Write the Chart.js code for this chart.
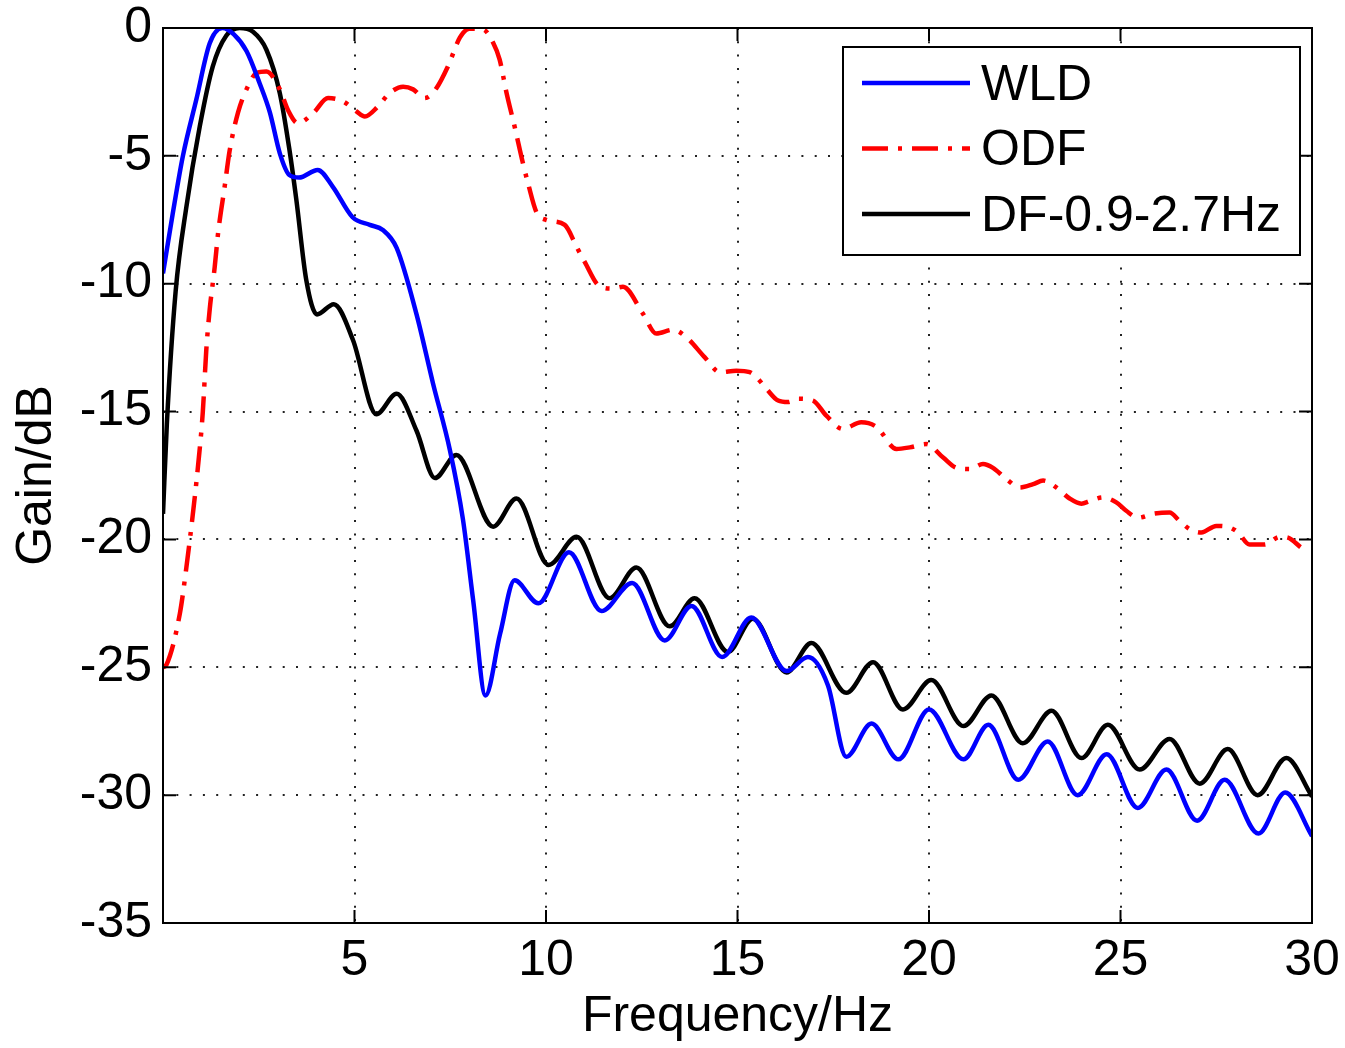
<!DOCTYPE html>
<html>
<head>
<meta charset="utf-8">
<title>Gain / Frequency</title>
<script src="https://cdn.jsdelivr.net/npm/chart.js@4.4.0/dist/chart.umd.min.js"></script>
<style>
  html, body { margin: 0; padding: 0; background: #fff; }
  #wrap { width: 1345px; height: 1048px; }
</style>
</head>
<body>
<div id="wrap"><canvas id="gainChart" width="1345" height="1048"></canvas></div>
<script>
// Values: frequency in Hz, gain in dB
const wldFreq = [0, 0.25, 0.52, 0.87, 1.22, 1.55, 1.85, 2.18, 2.52, 2.79, 3.05, 3.3, 3.55, 4.04, 4.43, 4.95, 5.4, 5.74,
  6.1, 6.62, 7.05, 7.49, 7.83, 8.1, 8.42, 8.8, 9.18, 9.8, 10.6, 11.45, 12.25, 13.1, 13.8, 14.6, 15.36, 16.28, 16.84,
  17.36, 17.84, 18.5, 19.2, 20.0, 20.9, 21.55, 22.33, 23.1, 23.88, 24.64, 25.45, 26.2, 27.0, 27.72, 28.6, 29.3, 30];
const wldGain = [-9.6, -7.3, -5.0, -2.8, -0.6, 0.0, -0.25, -0.9, -2.15, -3.3, -4.9, -5.75, -5.85, -5.55, -6.2, -7.4, -7.7, -7.9,
  -8.6, -11.2, -13.9, -16.5, -19.2, -22.4, -26.1, -23.7, -21.6, -22.5, -20.5, -22.8, -21.7, -23.95, -22.6, -24.6, -23.05, -25.15, -24.6,
  -25.7, -28.5, -27.2, -28.6, -26.65, -28.6, -27.25, -29.4, -27.9, -30.0, -28.4, -30.5, -29.0, -31.0, -29.4, -31.5, -29.9, -31.6];

const odfFreq = [0, 0.09, 0.44, 0.61, 0.78, 0.91, 1.04, 1.13, 1.22, 1.35, 1.44, 1.61, 1.74, 1.96, 2.18, 2.44, 2.7, 3.05,
  3.26, 3.52, 3.92, 4.31, 4.7, 5.05, 5.27, 5.61, 5.92, 6.27, 6.53, 6.83, 7.14, 7.44, 7.75, 8.0, 8.36, 8.62, 8.79, 8.97,
  9.18, 9.4, 9.53, 9.75, 10.0, 10.49, 10.8, 11.01, 11.4, 11.75, 12.01, 12.53, 12.88, 13.32, 13.67, 14.14, 14.54, 14.97,
  15.32, 15.49, 15.75, 16.06, 16.32, 16.58, 16.97, 17.32, 17.75, 18.23, 18.63, 19.15, 19.5, 19.93, 20.37, 20.72, 21.06,
  21.41, 21.67, 22.02, 22.37, 22.72, 22.98, 23.33, 23.67, 23.98, 24.2, 24.54, 24.89, 25.15, 25.46, 25.85, 26.28, 26.54,
  26.81, 27.11, 27.5, 27.85, 28.07, 28.37, 28.76, 29.16, 29.37, 29.7];
const odfGain = [-25.0, -24.9, -22.9, -21.1, -19.0, -17.2, -15.0, -12.6, -11.0, -9.35, -8.0, -6.2, -4.8, -3.3, -2.4, -1.76, -1.7, -2.4,
  -3.2, -3.72, -3.33, -2.74, -2.87, -3.26, -3.46, -3.07, -2.54, -2.3, -2.4, -2.74, -2.35, -1.5, -0.38, -0.03, -0.06, -0.58, -1.24, -2.54,
  -3.85, -5.3, -6.07, -7.2, -7.5, -7.7, -8.56, -9.15, -10.1, -10.19, -10.12, -11.17, -11.95, -11.8, -12.1, -12.87, -13.46, -13.4,
  -13.46, -13.65, -14.1, -14.57, -14.63, -14.5, -14.57, -15.16, -15.68, -15.42, -15.6, -16.46, -16.4, -16.27, -16.8, -17.2, -17.25,
  -17.05, -17.2, -17.64, -17.97, -17.84, -17.7, -17.97, -18.4, -18.6, -18.5, -18.36, -18.55, -18.88, -19.15, -19.0, -18.95, -19.27,
  -19.6, -19.73, -19.47, -19.53, -19.73, -20.2, -20.2, -19.9, -19.93, -20.3];

const dfFreq = [0, 0.1, 0.33, 0.61, 0.96, 1.3, 1.65, 2.0, 2.35, 2.7, 3.05, 3.3, 3.48, 3.74, 4.02, 4.46, 4.96, 5.57, 6.1,
  6.62, 7.1, 7.66, 8.62, 9.23, 10.07, 10.8, 11.66, 12.36, 13.23, 13.88, 14.75, 15.4, 16.28, 16.93, 17.84, 18.54, 19.32,
  20.06, 20.9, 21.63, 22.45, 23.2, 23.98, 24.67, 25.5, 26.28, 27.07, 27.8, 28.58, 29.33, 30];
const dfGain = [-19.0, -15.5, -10.3, -7.0, -3.85, -1.5, -0.3, 0.0, -0.15, -0.85, -2.55, -4.75, -6.7, -9.85, -11.2, -10.8, -12.2, -15.1, -14.3,
  -15.75, -17.6, -16.7, -19.5, -18.4, -21.0, -19.9, -22.3, -21.1, -23.4, -22.3, -24.4, -23.1, -25.2, -24.05, -26.0, -24.8, -26.65,
  -25.5, -27.3, -26.1, -27.97, -26.7, -28.55, -27.25, -29.0, -27.8, -29.55, -28.2, -30.0, -28.55, -30.05];

const seriesNames = ['WLD', 'ODF', 'DF-0.9-2.7Hz'];
const xTickValues = [0, 5, 10, 15, 20, 25, 30];
const xTickLabels = ['', '5', '10', '15', '20', '25', '30'];
const yTickValues = [-35, -30, -25, -20, -15, -10, -5, 0];
const yTickLabels = ['-35', '-30', '-25', '-20', '-15', '-10', '-5', '0'];

const FONT = "'Liberation Sans', Arial, Helvetica, sans-serif";

function toPoints(xs, ys) {
  return xs.map((x, i) => ({ x: x, y: ys[i] }));
}

// axes box with inward tick marks, like the original figure
const framePlugin = {
  id: 'frame',
  afterDatasetsDraw(chart) {
    const { ctx, chartArea: a, scales } = chart;
    const tl = 13;
    ctx.save();
    ctx.strokeStyle = '#000';
    ctx.lineWidth = 2;
    ctx.beginPath();
    xTickValues.forEach(v => {
      const px = scales.x.getPixelForValue(v);
      ctx.moveTo(px, a.bottom); ctx.lineTo(px, a.bottom - tl);
      ctx.moveTo(px, a.top); ctx.lineTo(px, a.top + tl);
    });
    yTickValues.forEach(v => {
      const py = scales.y.getPixelForValue(v);
      ctx.moveTo(a.left, py); ctx.lineTo(a.left + tl, py);
      ctx.moveTo(a.right, py); ctx.lineTo(a.right - tl, py);
    });
    ctx.stroke();
    ctx.strokeRect(a.left, a.top, a.right - a.left, a.bottom - a.top);
    ctx.restore();
  }
};

// legend box drawn inside the plot, top right
const boxLegend = {
  id: 'boxLegend',
  afterDraw(chart) {
    const { ctx, chartArea: a } = chart;
    const w = 457, h = 208;
    const left = a.right - 12 - w;
    const top = a.top + 19;
    ctx.save();
    ctx.fillStyle = '#fff';
    ctx.fillRect(left, top, w, h);
    ctx.strokeStyle = '#000';
    ctx.lineWidth = 2;
    ctx.strokeRect(left, top, w, h);
    chart.data.datasets.forEach((ds, i) => {
      const y = top + 36 + i * 65.5;
      ctx.beginPath();
      ctx.strokeStyle = ds.borderColor;
      ctx.lineWidth = ds.borderWidth;
      ctx.setLineDash(ds.borderDash || []);
      ctx.moveTo(left + 19, y);
      ctx.lineTo(left + 127, y);
      ctx.stroke();
      ctx.setLineDash([]);
      ctx.fillStyle = '#000';
      ctx.font = '50px ' + FONT;
      ctx.textBaseline = 'middle';
      ctx.textAlign = 'left';
      ctx.fillText(ds.label, left + 138, y + 3);
    });
    ctx.restore();
  }
};

const ctx = document.getElementById('gainChart').getContext('2d');
new Chart(ctx, {
  type: 'line',
  data: {
    datasets: [
      {
        label: seriesNames[0],
        data: toPoints(wldFreq, wldGain),
        borderColor: '#0000ff',
        borderWidth: 4.5,
        pointRadius: 0,
        cubicInterpolationMode: 'monotone'
      },
      {
        label: seriesNames[1],
        data: toPoints(odfFreq, odfGain),
        borderColor: '#ff0000',
        borderWidth: 4.5,
        borderDash: [26, 10, 4, 10],
        pointRadius: 0,
        cubicInterpolationMode: 'monotone'
      },
      {
        label: seriesNames[2],
        data: toPoints(dfFreq, dfGain),
        borderColor: '#000000',
        borderWidth: 4.5,
        pointRadius: 0,
        cubicInterpolationMode: 'monotone'
      }
    ]
  },
  options: {
    responsive: false,
    animation: false,
    layout: { padding: { left: 0, right: 33, top: 28, bottom: 0 } },
    plugins: {
      legend: { display: false },
      tooltip: { enabled: false }
    },
    scales: {
      x: {
        type: 'linear',
        min: 0,
        max: 30,
        afterBuildTicks: s => { s.ticks = xTickValues.map(v => ({ value: v })); },
        afterFit: s => { s.height = 125; s.paddingLeft = 0; s.paddingRight = 0; },
        ticks: {
          color: '#000',
          padding: 8,
          maxRotation: 0,
          font: { family: FONT, size: 50 },
          callback: (v, i) => xTickLabels[i]
        },
        grid: { color: '#222', lineWidth: 2, drawTicks: false },
        border: { display: false, dash: [2, 11.3] },
        title: {
          display: true,
          text: 'Frequency/Hz',
          color: '#000',
          font: { family: FONT, size: 50 },
          padding: { top: 0, bottom: 1 }
        }
      },
      y: {
        type: 'linear',
        min: -35,
        max: 0,
        afterBuildTicks: s => { s.ticks = yTickValues.map(v => ({ value: v })); },
        afterFit: s => { s.width = 163; s.paddingTop = 0; s.paddingBottom = 0; },
        ticks: {
          color: '#000',
          padding: 11,
          font: { family: FONT, size: 50 },
          callback: (v, i) => yTickLabels[i]
        },
        grid: { color: '#222', lineWidth: 2, drawTicks: false },
        border: { display: false, dash: [2, 11.3] },
        title: {
          display: true,
          text: 'Gain/dB',
          color: '#000',
          font: { family: FONT, size: 50 },
          padding: { top: 7, bottom: 0 }
        }
      }
    }
  },
  plugins: [framePlugin, boxLegend]
});
</script>
</body>
</html>
